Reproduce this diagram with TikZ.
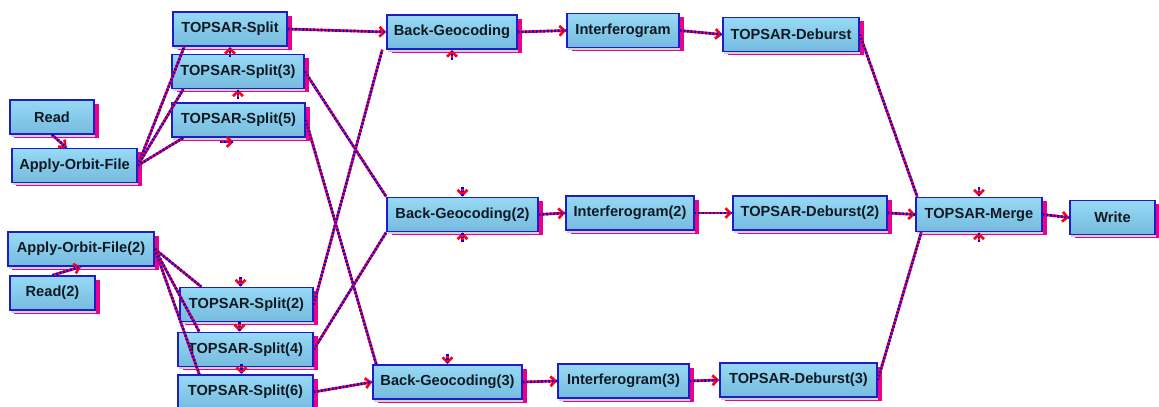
\documentclass[tikz,border=0pt]{standalone}
\usepackage{fontspec}
\setmainfont{Liberation Sans}
\usepackage{tikz}
\definecolor{boxtop}{RGB}{150,218,246}
\definecolor{boxbot}{RGB}{118,186,222}
\definecolor{boxline}{RGB}{30,30,200}
\definecolor{boxtext}{RGB}{15,25,35}
\tikzset{
opnode/.style={draw=boxline, line width=1.1pt, top color=boxtop, bottom color=boxbot, text=boxtext, font=\bfseries\fontsize{10.4}{12}\selectfont, minimum height=0.85cm, inner sep=0pt, general shadow={fill=magenta, shadow xshift=3.2pt, shadow yshift=-2.5pt}, general shadow={fill=gray!35, shadow xshift=0.6pt, shadow yshift=-2pt}},
wd/.style={minimum width=#1*0.025cm},
link/.style={red!90!magenta, line width=1.9pt, postaction={draw=blue, arrows=-, line width=1.9pt, dash pattern=on 1.2pt off 1.4pt}},
tip/.style={-{Straight Barb[length=3.5pt, width=7pt]}}
}
\usetikzlibrary{arrows.meta, shadows}

\begin{document}
\begin{tikzpicture}[x=0.025cm, y=-0.025cm]
			\useasboundingbox (0,0) rectangle (1159,407);
			\node[opnode, wd=84] (read) at (52,117) {Read};
			\node[opnode, wd=125] (aof) at (74.5,165.5) {Apply-Orbit-File};
			\node[opnode, wd=146] (aof2) at (81,249) {Apply-Orbit-File(2)};
			\node[opnode, wd=85] (read2) at (52.5,293) {Read(2)};
			\node[opnode, wd=114] (split) at (230,29) {TOPSAR-Split};
			\node[opnode, wd=132] (split3) at (238,71.5) {TOPSAR-Split(3)};
			\node[opnode, wd=133] (split5) at (238.5,120) {TOPSAR-Split(5)};
			\node[opnode, wd=133] (split2) at (246.5,304.5) {TOPSAR-Split(2)};
			\node[opnode, wd=135] (split4) at (245.5,349.5) {TOPSAR-Split(4)};
			\node[opnode, wd=135] (split6) at (245.5,392) {TOPSAR-Split(6)};
			\node[opnode, wd=130] (bg) at (452,32) {Back-Geocoding};
			\node[opnode, wd=112] (ifg) at (623,30.5) {Interferogram};
			\node[opnode, wd=136] (deb) at (791,34.5) {TOPSAR-Deburst};
			\node[opnode, wd=151] (bg2) at (462.5,214.5) {Back-Geocoding(2)};
			\node[opnode, wd=128] (ifg2) at (630,213) {Interferogram(2)};
			\node[opnode, wd=154] (deb2) at (810,213) {TOPSAR-Deburst(2)};
			\node[opnode, wd=126] (merge) at (979,214.5) {TOPSAR-Merge};
			\node[opnode, wd=85] (write) at (1112.5,217.5) {Write};
			\node[opnode, wd=149] (bg3) at (447.5,382) {Back-Geocoding(3)};
			\node[opnode, wd=131] (ifg3) at (623.5,381) {Interferogram(3)};
			\node[opnode, wd=157] (deb3) at (798.5,380) {TOPSAR-Deburst(3)};
			% ----
			\draw[link, tip] (read.south) -- ([xshift=-0.2cm]aof.north);
			\draw[link, tip] (read2.north) -- (aof2.south);
			%
			\draw[link] (aof.east) -- ([xshift=0.3cm]split.south west);
			\draw[link] (aof.east) -- ([xshift=0.3cm]split3.south west);
			\draw[link] (aof.east) -- ([xshift=0.3cm]split5.south west);
			\draw[link, tip] ([yshift=-7pt]split.south) -- (split.south);
			\draw[link, tip] ([yshift=-7pt]split3.south) -- (split3.south);
			\draw[link, tip] ([xshift=-0.45cm, yshift=-3pt]split5.south) -- ([xshift=-0.12cm, yshift=-3pt]split5.south);
			%
			\draw[link] (aof2.east) -- ([xshift=0.55cm]split2.north west);
			\draw[link] (aof2.east) -- ([xshift=0.55cm]split4.north west);
			\draw[link] (aof2.east) -- ([xshift=0.55cm]split6.north west);
			\draw[link, tip] ([xshift=-0.15cm, yshift=7pt]split2.north) -- ([xshift=-0.15cm]split2.north);
			\draw[link, tip] ([xshift=-0.15cm, yshift=7pt]split4.north) -- ([xshift=-0.15cm]split4.north);
			\draw[link, tip] ([xshift=-0.1cm, yshift=7pt]split6.north) -- ([xshift=-0.1cm]split6.north);
			% ----
			\draw[link, tip] (split.east) -- (bg.west);
			\draw[link] (split3.east) -- (bg2.north west);
			\draw[link, tip] ([yshift=7pt]bg2.north) -- (bg2.north);
			\draw[link] (split5.east) -- ([xshift=0.1cm]bg3.north west);
			\draw[link, tip] ([yshift=7pt]bg3.north) -- (bg3.north);
			\draw[link] (split2.east) -- ([xshift=-0.1cm]bg.south west);
			\draw[link, tip] ([yshift=-7pt]bg.south) -- (bg.south);
			\draw[link] (split4.east) -- (bg2.south west);
			\draw[link, tip] ([yshift=-7pt]bg2.south) -- (bg2.south);
			\draw[link, tip] (split6.east) -- (bg3.west);
			% ----
			\draw[link, tip] (bg.east) -- (ifg.west);
			\draw[link, tip] (ifg.east) -- (deb.west);
			\draw[link, tip] (bg2.east) -- (ifg2.west);
			\draw[link, tip] (ifg2.east) -- (deb2.west);
			\draw[link, tip] (bg3.east) -- (ifg3.west);
			\draw[link, tip] (ifg3.east) -- (deb3.west);
			% ----
			\draw[link] (deb.east) -- ([xshift=0.05cm]merge.north west);
			\draw[link, tip] ([yshift=7pt]merge.north) -- (merge.north);
			\draw[link] (deb3.east) -- ([xshift=0.15cm]merge.south west);
			\draw[link, tip] ([yshift=-7pt]merge.south) -- (merge.south);
			\draw[link, tip] (deb2.east) -- (merge.west);
			\draw[link, tip] (merge.east) -- (write.west);
		\end{tikzpicture}
\end{document}
